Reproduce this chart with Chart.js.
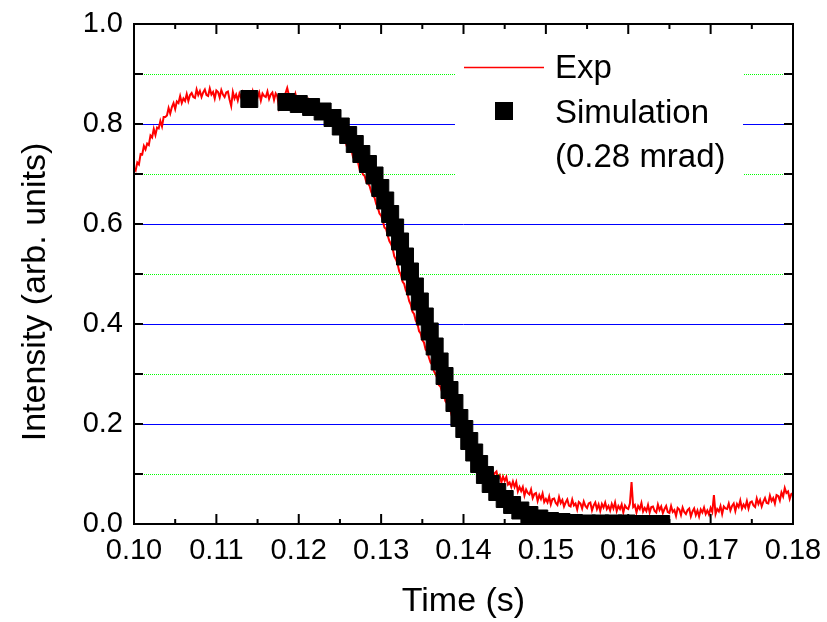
<!DOCTYPE html>
<html>
<head>
<meta charset="utf-8">
<script src="https://cdn.jsdelivr.net/npm/chart.js@4.4.0/dist/chart.umd.min.js"></script>
<style>
  html, body { margin: 0; padding: 0; background: #fff; }
  #chart { display: block; }
</style>
</head>
<body>
<canvas id="chart" width="827" height="622"></canvas>
<script>
// experimental trace, sampled every 0.2 ms from 0.100 s
const expStart = 0.1;
const expStep = 0.0002;
const expIntensity = [
  0.712, 0.707, 0.723, 0.719, 0.740, 0.739, 0.756, 0.749, 0.761, 0.758, 0.777, 0.773, 0.790, 0.778, 0.793, 0.791, 0.806, 0.795, 0.814, 0.814,
  0.817, 0.832, 0.821, 0.834, 0.842, 0.830, 0.845, 0.842, 0.856, 0.842, 0.851, 0.846, 0.860, 0.846, 0.858, 0.862, 0.854, 0.852, 0.869, 0.858,
  0.866, 0.854, 0.863, 0.869, 0.858, 0.856, 0.871, 0.859, 0.864, 0.851, 0.867, 0.864, 0.853, 0.868, 0.859, 0.854, 0.863, 0.865, 0.849, 0.836,
  0.864, 0.851, 0.859, 0.847, 0.861, 0.853, 0.863, 0.850, 0.856, 0.848, 0.861, 0.852, 0.865, 0.848, 0.858, 0.853, 0.863, 0.847, 0.861, 0.856,
  0.854, 0.865, 0.850, 0.859, 0.863, 0.848, 0.861, 0.855, 0.834, 0.850, 0.857, 0.851, 0.862, 0.872, 0.858, 0.859, 0.849, 0.845, 0.860, 0.848,
  0.853, 0.845, 0.849, 0.851, 0.844, 0.842, 0.849, 0.840, 0.842, 0.834, 0.840, 0.837, 0.829, 0.835, 0.827, 0.823, 0.825, 0.823, 0.811, 0.813,
  0.812, 0.800, 0.801, 0.789, 0.793, 0.784, 0.783, 0.770, 0.768, 0.757, 0.758, 0.747, 0.748, 0.733, 0.733, 0.724, 0.723, 0.708, 0.709, 0.699,
  0.696, 0.684, 0.681, 0.676, 0.664, 0.656, 0.653, 0.640, 0.633, 0.621, 0.617, 0.607, 0.593, 0.590, 0.577, 0.566, 0.560, 0.551, 0.535, 0.529,
  0.520, 0.505, 0.499, 0.485, 0.480, 0.467, 0.461, 0.446, 0.439, 0.425, 0.420, 0.407, 0.402, 0.386, 0.381, 0.368, 0.363, 0.349, 0.345, 0.333,
  0.323, 0.319, 0.306, 0.300, 0.293, 0.278, 0.275, 0.264, 0.259, 0.246, 0.241, 0.231, 0.229, 0.215, 0.213, 0.205, 0.196, 0.188, 0.188, 0.177,
  0.175, 0.164, 0.164, 0.152, 0.154, 0.144, 0.146, 0.134, 0.135, 0.123, 0.128, 0.123, 0.112, 0.124, 0.109, 0.104, 0.113, 0.113, 0.094, 0.102,
  0.105, 0.090, 0.097, 0.083, 0.095, 0.086, 0.094, 0.079, 0.083, 0.074, 0.085, 0.074, 0.084, 0.065, 0.074, 0.066, 0.074, 0.057, 0.069, 0.062,
  0.059, 0.069, 0.052, 0.060, 0.062, 0.046, 0.058, 0.050, 0.061, 0.044, 0.050, 0.043, 0.055, 0.039, 0.050, 0.051, 0.042, 0.038, 0.054, 0.042,
  0.048, 0.035, 0.043, 0.049, 0.037, 0.035, 0.049, 0.037, 0.041, 0.029, 0.044, 0.041, 0.031, 0.045, 0.036, 0.032, 0.041, 0.043, 0.027, 0.037,
  0.043, 0.030, 0.039, 0.026, 0.040, 0.033, 0.043, 0.030, 0.036, 0.027, 0.040, 0.031, 0.043, 0.026, 0.036, 0.030, 0.039, 0.023, 0.037, 0.032,
  0.030, 0.041, 0.084, 0.034, 0.038, 0.023, 0.036, 0.030, 0.042, 0.025, 0.032, 0.026, 0.038, 0.023, 0.034, 0.035, 0.026, 0.023, 0.039, 0.028,
  0.035, 0.022, 0.030, 0.036, 0.024, 0.022, 0.036, 0.024, 0.028, 0.016, 0.032, 0.029, 0.018, 0.033, 0.024, 0.020, 0.028, 0.031, 0.015, 0.025,
  0.031, 0.018, 0.027, 0.015, 0.029, 0.023, 0.033, 0.020, 0.027, 0.019, 0.032, 0.024, 0.058, 0.020, 0.030, 0.025, 0.036, 0.020, 0.035, 0.031,
  0.030, 0.041, 0.027, 0.036, 0.041, 0.026, 0.040, 0.034, 0.047, 0.031, 0.039, 0.033, 0.046, 0.031, 0.043, 0.045, 0.037, 0.034, 0.051, 0.040,
  0.048, 0.035, 0.045, 0.052, 0.042, 0.041, 0.057, 0.046, 0.052, 0.041, 0.058, 0.056, 0.047, 0.063, 0.055, 0.072, 0.062, 0.065, 0.050, 0.060,
  0.062
];
const expTime = expIntensity.map((v, i) => +(expStart + i * expStep).toFixed(4));

const simTime = [
  0.1140, 0.1185, 0.1200, 0.1215, 0.1229, 0.1241, 0.1251, 0.1260, 0.1268, 0.1276,
  0.1284, 0.1292, 0.1299, 0.1305, 0.1311, 0.1317, 0.1323, 0.1329, 0.1335, 0.1341,
  0.1347, 0.1353, 0.1359, 0.1365, 0.1371, 0.1377, 0.1383, 0.1389, 0.1395, 0.1401,
  0.1407, 0.1413, 0.1419, 0.1426, 0.1433, 0.1441, 0.1450, 0.1459, 0.1469, 0.1480,
  0.1492, 0.1505, 0.1519, 0.1534, 0.1550, 0.1566, 0.1582, 0.1598, 0.1614, 0.1630,
  0.1640
];
const simIntensity = [
  0.850, 0.844, 0.840, 0.834, 0.825, 0.812, 0.795, 0.778, 0.760, 0.740,
  0.720, 0.697, 0.672, 0.647, 0.620, 0.593, 0.565, 0.535, 0.505, 0.475,
  0.445, 0.415, 0.385, 0.355, 0.325, 0.296, 0.268, 0.242, 0.212, 0.190,
  0.166, 0.143, 0.120, 0.098, 0.080, 0.064, 0.050, 0.038, 0.027, 0.018,
  0.011, 0.006, 0.004, 0.002, 0.001, 0.001, 0.001, 0.001, 0.000, 0.000,
  0.000
];

const seriesLabels = ['Exp', ['Simulation', '(0.28 mrad)']];
const xTitle = 'Time (s)';
const yTitle = 'Intensity (arb. units)';

const FONT = 'Liberation Sans, Arial, sans-serif';
Chart.defaults.font.family = FONT;
Chart.defaults.color = '#000';

// grid lines, inward ticks on all four sides, legend box, y title
const frame = {
  id: 'frame',
  beforeDatasetsDraw(chart) {
    const { ctx, chartArea: a, scales: { y } } = chart;
    ctx.save();
    ctx.lineWidth = 1;
    for (let k = 1; k < 10; k++) {
      const py = Math.round(y.getPixelForValue(k / 10)) + 0.5;
      ctx.beginPath();
      if (k % 2 === 0) {
        ctx.strokeStyle = '#0000ff';
        ctx.setLineDash([]);
      } else {
        ctx.strokeStyle = '#00ff00';
        ctx.setLineDash([1, 1]);
      }
      ctx.moveTo(a.left, py);
      ctx.lineTo(a.right, py);
      ctx.stroke();
    }
    ctx.setLineDash([]);

    // y axis title
    ctx.fillStyle = '#000';
    ctx.font = '34px ' + FONT;
    ctx.textAlign = 'center';
    ctx.textBaseline = 'middle';
    ctx.translate(36, 292);
    ctx.rotate(-Math.PI / 2);
    ctx.fillText(yTitle, 0, 0);
    ctx.restore();
  },
  afterDatasetsDraw(chart) {
    const { ctx, chartArea: a, scales: { x, y } } = chart;
    ctx.save();

    // legend
    ctx.fillStyle = '#fff';
    ctx.fillRect(455, 48, 288, 142);
    ctx.strokeStyle = '#ff0000';
    ctx.lineWidth = 1.5;
    ctx.beginPath();
    ctx.moveTo(464, 67.5);
    ctx.lineTo(544, 67.5);
    ctx.stroke();
    ctx.fillStyle = '#000';
    ctx.fillRect(495, 102, 18, 18);
    ctx.font = '33px ' + FONT;
    ctx.textBaseline = 'alphabetic';
    ctx.textAlign = 'left';
    ctx.fillText(seriesLabels[0], 555, 78);
    ctx.fillText(seriesLabels[1][0], 555, 123);
    ctx.fillText(seriesLabels[1][1], 555, 167);

    // frame
    ctx.strokeStyle = '#000';
    ctx.lineWidth = 2;
    ctx.strokeRect(a.left, a.top, a.right - a.left, a.bottom - a.top);

    ctx.beginPath();
    for (let k = 0; k <= 16; k++) {
      const px = x.getPixelForValue(0.1 + k * 0.005);
      const len = k % 2 === 0 ? 10 : 5;
      ctx.moveTo(px, a.bottom);
      ctx.lineTo(px, a.bottom - len);
      ctx.moveTo(px, a.top);
      ctx.lineTo(px, a.top + len);
    }
    for (let k = 0; k <= 10; k++) {
      const py = y.getPixelForValue(k / 10);
      ctx.moveTo(a.left, py);
      ctx.lineTo(a.left + 9, py);
      ctx.moveTo(a.right, py);
      ctx.lineTo(a.right - 9, py);
    }
    ctx.stroke();
    ctx.restore();
  }
};

new Chart(
  document.getElementById('chart'),
  {
    type: 'scatter',

    data: {
      datasets: [
        {
          label: seriesLabels[1].join(' '),
          data: simTime.map((t, i) => ({ x: t, y: simIntensity[i] })),
          pointStyle: 'rect',
          pointRadius: 12,
          pointBackgroundColor: '#000',
          pointBorderColor: '#000',
          pointBorderWidth: 1,
          showLine: false
        },
        {
          label: seriesLabels[0],
          data: expTime.map((t, i) => ({ x: t, y: expIntensity[i] })),
          showLine: true,
          borderColor: '#ff0000',
          borderWidth: 2,
          pointRadius: 0,
          tension: 0
        }
      ]
    },

    options: {
      responsive: false,
      devicePixelRatio: 1,
      animation: false,
      layout: { padding: { top: 24, right: 34, left: 0, bottom: 0 } },
      plugins: {
        legend: { display: false },
        tooltip: { enabled: false }
      },
      scales: {
        x: {
          type: 'linear',
          min: 0.1,
          max: 0.18,
          afterFit: s => {
            s.height = 98;
            s.paddingLeft = 0;
            s.paddingRight = 0;
          },
          grid: { display: false, drawTicks: false },
          border: { display: false },
          ticks: {
            stepSize: 0.01,
            padding: 10,
            font: { size: 29 },
            color: '#000',
            maxRotation: 0,
            callback: v => v.toFixed(2)
          },
          title: {
            display: true,
            text: xTitle,
            font: { size: 34 },
            color: '#000',
            padding: { top: 0, bottom: 0 }
          }
        },
        y: {
          min: 0,
          max: 1,
          afterFit: s => {
            s.width = 134;
            s.paddingTop = 0;
            s.paddingBottom = 0;
          },
          grid: { display: false, drawTicks: false },
          border: { display: false },
          ticks: {
            stepSize: 0.2,
            padding: 11,
            font: { size: 29 },
            color: '#000',
            callback: v => v.toFixed(1)
          }
        }
      }
    },

    plugins: [frame]
  }
);
</script>
</body>
</html>
